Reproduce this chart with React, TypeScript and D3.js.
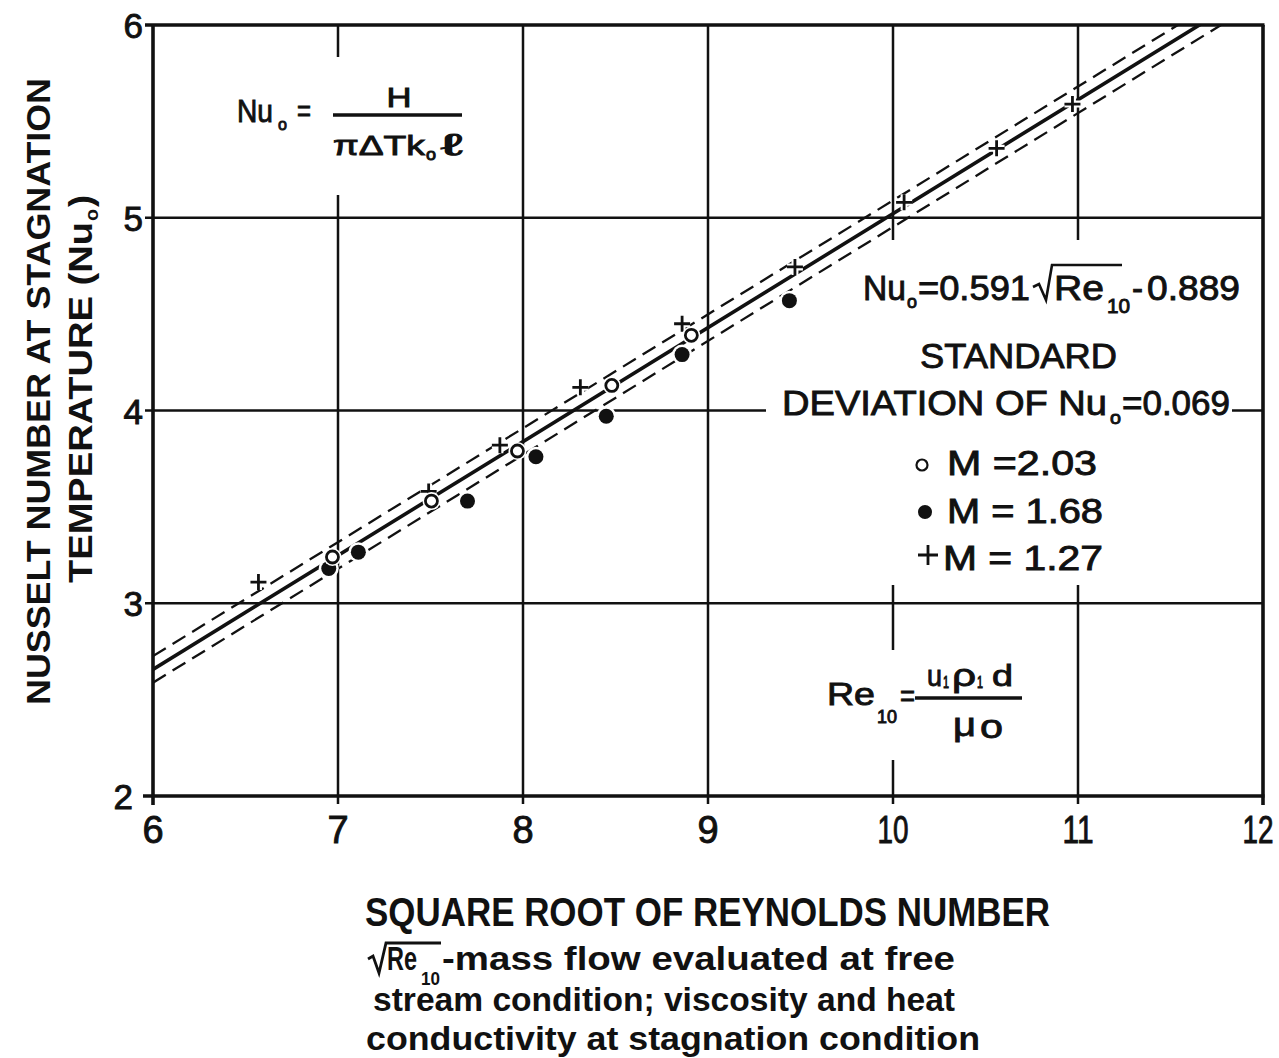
import React from "react";
import * as d3 from "d3";

// ---- data ----
const xTicks = [6, 7, 8, 9, 10, 11, 12];
const yTicks = [2, 3, 4, 5, 6];
const fitSlope = 0.591;
const fitIntercept = -0.889;
const stdDev = 0.069;

const openX = [6.97, 7.505, 7.97, 8.48, 8.91]; // M = 2.03
const openY = [3.24, 3.53, 3.79, 4.13, 4.39];
const filledX = [6.95, 7.11, 7.7, 8.07, 8.45, 8.86, 9.44]; // M = 1.68
const filledY = [3.18, 3.265, 3.53, 3.76, 3.97, 4.29, 4.57];
const plusX = [6.57, 7.49, 7.875, 8.31, 8.86, 9.47, 10.06, 10.56, 10.97]; // M = 1.27
const plusY = [3.11, 3.58, 3.82, 4.12, 4.45, 4.745, 5.08, 5.36, 5.59];

const legendLabels = ["M =2.03", "M = 1.68", "M = 1.27"];

const W = 1279;
const H = 1058;
const FONT = "'Liberation Sans', 'DejaVu Sans', Arial, sans-serif";
const INK = "#111";

const x = d3.scaleLinear().domain([6, 12]).range([153, 1263]);
const y = d3.scaleLinear().domain([2, 6]).range([796, 25]);

function T(props: any) {
  const { x, y, s, len, children, anchor = "start", w = "normal", transform } = props;
  const heavy = w === "normal";
  return (
    <text
      x={x}
      y={y}
      fontSize={s}
      textLength={len}
      lengthAdjust="spacingAndGlyphs"
      textAnchor={anchor}
      fontWeight={w}
      fontFamily={FONT}
      fill={INK}
      stroke={heavy ? INK : "none"}
      strokeWidth={heavy ? 0.9 : 0}
      transform={transform}
    >
      {children}
    </text>
  );
}

function OpenMark({ cx, cy }: any) {
  return (
    <g>
      <circle cx={cx} cy={cy} r={9} fill="#fff" />
      <circle cx={cx} cy={cy} r={6} fill="#fff" stroke={INK} strokeWidth={2.8} />
    </g>
  );
}
function FilledMark({ cx, cy }: any) {
  return (
    <g>
      <circle cx={cx} cy={cy} r={10} fill="#fff" />
      <circle cx={cx} cy={cy} r={7.5} fill={INK} />
    </g>
  );
}
function PlusMark({ cx, cy }: any) {
  const a = 8;
  const d = `M${cx - a},${cy}H${cx + a}M${cx},${cy - a}V${cy + a}`;
  return (
    <g>
      <path d={d} stroke="#fff" strokeWidth={7} />
      <path d={d} stroke={INK} strokeWidth={2.8} />
    </g>
  );
}

export default function App() {
  const x0 = x(6), x1 = x(12), yT = y(6), yB = y(2);
  const fit = (v: number) => fitSlope * v + fitIntercept;
  const mkPath = (off: number) =>
    d3
      .line<number>()
      .x((v) => x(v))
      .y((v) => y(fit(v) + off))([6, 12]) as string;

  return (
    <svg
      width={W}
      height={H}
      style={{ position: "absolute", left: 0, top: 0, display: "block", background: "#fff" }}
    >
      <defs>
        <clipPath id="plot">
          <rect x={x0} y={yT} width={x1 - x0} height={yB - yT} />
        </clipPath>
      </defs>
      <rect x={0} y={0} width={W} height={H} fill="#fff" />

      {/* grid */}
      {xTicks.slice(1, -1).map((v) => (
        <line key={"gx" + v} x1={x(v)} x2={x(v)} y1={yT} y2={yB + 8} stroke={INK} strokeWidth={2.5} />
      ))}
      {yTicks.slice(1, -1).map((v) => (
        <line key={"gy" + v} x1={x0 - 8} x2={x1} y1={y(v)} y2={y(v)} stroke={INK} strokeWidth={2.5} />
      ))}

      {/* white label backgrounds that interrupt the grid */}
      <rect x={225} y={57} width={255} height={138} fill="#fff" />
      <rect x={766} y={240} width={466} height={345} fill="#fff" />
      <rect x={805} y={650} width={230} height={110} fill="#fff" />

      {/* frame */}
      <line x1={x0 - 8} x2={x1 + 1.5} y1={yT} y2={yT} stroke={INK} strokeWidth={3.6} />
      <line x1={x0 - 10} x2={x1 + 1.5} y1={yB} y2={yB} stroke={INK} strokeWidth={3.6} />
      <line x1={x0} x2={x0} y1={yT} y2={yB + 9} stroke={INK} strokeWidth={3.6} />
      <line x1={x1} x2={x1} y1={yT} y2={yB + 9} stroke={INK} strokeWidth={3.6} />

      {/* fit lines */}
      <g clipPath="url(#plot)" fill="none">
        <path d={mkPath(stdDev)} stroke={INK} strokeWidth={2.3} strokeDasharray="15 8" />
        <path d={mkPath(-stdDev)} stroke={INK} strokeWidth={2.3} strokeDasharray="15 8" />
        <path d={mkPath(0)} stroke={INK} strokeWidth={3.6} />
      </g>

      {/* data */}
      {plusX.map((v, i) => (
        <PlusMark key={"p" + i} cx={x(v)} cy={y(plusY[i])} />
      ))}
      {filledX.map((v, i) => (
        <FilledMark key={"f" + i} cx={x(v)} cy={y(filledY[i])} />
      ))}
      {openX.map((v, i) => (
        <OpenMark key={"o" + i} cx={x(v)} cy={y(openY[i])} />
      ))}

      {/* tick labels */}
      {yTicks.map((v) => (
        <T key={"ly" + v} x={v === 2 ? 133 : 143} y={y(v) + 13} s={35} anchor="end">
          {String(v)}
        </T>
      ))}
      {xTicks.map((v) => (
        <T
          key={"lx" + v}
          x={v === 12 ? 1258 : x(v)}
          y={843}
          s={38}
          anchor="middle"
          len={v >= 10 ? 31 : undefined}
        >
          {String(v)}
        </T>
      ))}

      {/* Nu_o = H / (pi dT k_o l) */}
      <T x={237} y={122} s={32} len={36}>Nu</T>
      <T x={278} y={130} s={17} len={9}>o</T>
      <T x={297} y={121} s={30} len={14}>=</T>
      <T x={399} y={107} s={27} len={25} anchor="middle">H</T>
      <line x1={333} x2={462} y1={115} y2={115} stroke={INK} strokeWidth={3.4} />
      <T x={333} y={155} s={28} len={92}>πΔTk</T>
      <T x={426} y={160} s={16} len={10}>o</T>
      <T x={441} y={155} s={30} len={22}>ℓ</T>

      {/* fit formula */}
      <T x={863} y={300} s={35} len={43}>Nu</T>
      <T x={907} y={308} s={18} len={10}>o</T>
      <T x={918} y={300} s={35} len={112}>=0.591</T>
      <path d="M1033,287 L1039,284 L1046,300 L1052,265 L1122,265" fill="none" stroke={INK} strokeWidth={2.6} />
      <T x={1054} y={300} s={35} len={50}>Re</T>
      <T x={1107} y={313} s={20} len={23}>10</T>
      <T x={1132} y={300} s={35} len={11}>-</T>
      <T x={1147} y={300} s={35} len={93}>0.889</T>

      <T x={920} y={368} s={35} len={197}>STANDARD</T>
      <T x={782} y={415} s={35} len={325}>DEVIATION OF Nu</T>
      <T x={1110} y={424} s={18} len={11}>o</T>
      <T x={1122} y={415} s={35} len={108}>=0.069</T>

      {/* legend */}
      <circle cx={922} cy={465} r={5.5} fill="#fff" stroke={INK} strokeWidth={2.2} />
      <T x={947} y={475} s={35} len={150}>{legendLabels[0]}</T>
      <circle cx={925} cy={512} r={7} fill={INK} />
      <T x={947} y={523} s={35} len={156}>{legendLabels[1]}</T>
      <path d="M918,555H938M928,545V565" stroke={INK} strokeWidth={2.8} />
      <T x={943} y={570} s={35} len={160}>{legendLabels[2]}</T>

      {/* Re10 formula */}
      <T x={827} y={705} s={32} len={48}>Re</T>
      <T x={877} y={723} s={18} len={20}>10</T>
      <T x={900} y={706} s={30} len={15}>=</T>
      <line x1={915} x2={1022} y1={698} y2={698} stroke={INK} strokeWidth={3.4} />
      <T x={927} y={686} s={30} len={15}>u</T>
      <T x={943} y={688} s={16} len={6}>1</T>
      <T x={952} y={686} s={32} len={24}>ρ</T>
      <T x={977} y={688} s={16} len={6}>1</T>
      <T x={992} y={686} s={30} len={21}>d</T>
      <T x={953} y={736} s={34} len={23}>μ</T>
      <T x={980} y={738} s={34} len={23}>o</T>

      {/* y axis title */}
      <g transform="rotate(-90)">
        <T x={-705} y={50} s={34} len={627} w="bold">NUSSELT  NUMBER AT STAGNATION</T>
        <T x={-583} y={92} s={34} len={361} w="bold">TEMPERATURE (Nu</T>
        <T x={-221} y={98} s={18} len={12} w="bold">o</T>
        <T x={-207} y={92} s={34} len={12} w="bold">)</T>
      </g>

      {/* x axis title */}
      <T x={365} y={926} s={40} len={685} w="bold">SQUARE ROOT OF REYNOLDS NUMBER</T>
      <path d="M368,959 L373,956 L379,973 L386,943 L441,943" fill="none" stroke={INK} strokeWidth={2.8} />
      <T x={387} y={970} s={34} len={30} w="bold">Re</T>
      <T x={421} y={985} s={19} len={19} w="bold">10</T>
      <T x={442} y={970} s={34} len={513} w="bold">-mass flow evaluated at free</T>
      <T x={373} y={1011} s={34} len={582} w="bold">stream condition; viscosity and heat</T>
      <T x={366} y={1050} s={34} len={614} w="bold">conductivity at stagnation condition</T>
    </svg>
  );
}
